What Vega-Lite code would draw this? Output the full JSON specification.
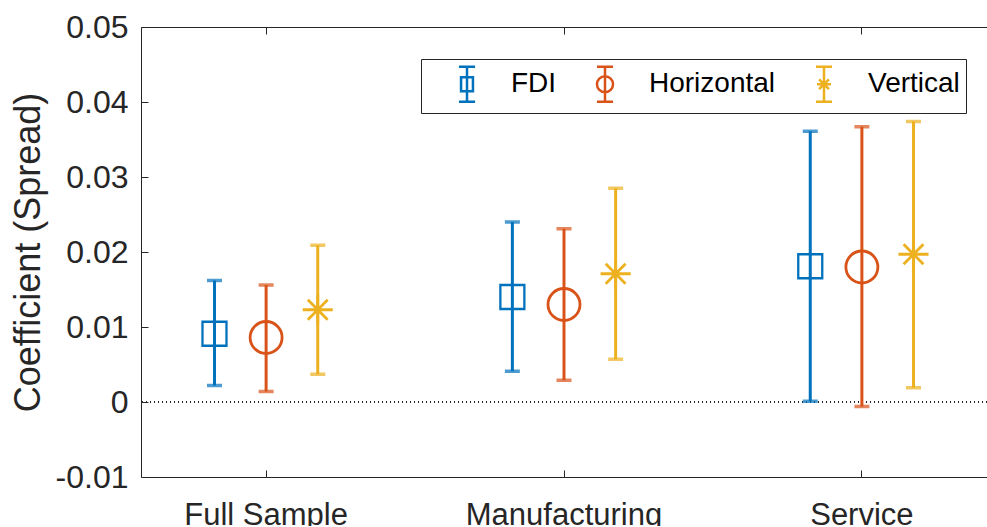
{
  "$schema": "https://vega.github.io/schema/vega-lite/v6.json",
  "autosize": "none",
  "padding": {"left": 141, "top": 27, "right": 0, "bottom": 49},
  "width": 846,
  "height": 450,
  "background": "white",
  "config": {
    "view": {"stroke": null},
    "font": "Liberation Sans",
    "axis": {
      "domainColor": "#262626",
      "tickColor": "#262626",
      "labelColor": "#262626",
      "titleColor": "#262626",
      "domainWidth": 1,
      "tickWidth": 1,
      "grid": false,
      "labelFont": "Liberation Sans",
      "titleFont": "Liberation Sans",
      "titleFontWeight": "normal",
      "labelLimit": 0
    },
    "legend": {
      "orient": "none",
      "legendX": 280,
      "legendY": 32,
      "direction": "horizontal",
      "titleOrient": "left",
      "titleFontSize": 1,
      "titlePadding": 21,
      "padding": 6,
      "strokeColor": "#262626",
      "fillColor": "white",
      "symbolSize": 1225,
      "symbolStrokeWidth": 2.5,
      "symbolFillColor": "transparent",
      "labelFontSize": 28,
      "labelColor": "#000000",
      "labelFont": "Liberation Sans",
      "labelOffset": 25,
      "columnPadding": 29,
      "symbolOpacity": 1
    }
  },
  "data": {
    "values": [
      {"group": "Full Sample", "series": "FDI", "est": 0.0091, "lo": 0.0022, "hi": 0.0162},
      {"group": "Full Sample", "series": "Horizontal", "est": 0.0086, "lo": 0.0014, "hi": 0.0156},
      {"group": "Full Sample", "series": "Vertical", "est": 0.0123, "lo": 0.0037, "hi": 0.0209},
      {"group": "Manufacturing", "series": "FDI", "est": 0.0140, "lo": 0.0041, "hi": 0.0240},
      {"group": "Manufacturing", "series": "Horizontal", "est": 0.0130, "lo": 0.0029, "hi": 0.0231},
      {"group": "Manufacturing", "series": "Vertical", "est": 0.0171, "lo": 0.0057, "hi": 0.0285},
      {"group": "Service", "series": "FDI", "est": 0.0181, "lo": 0.0001, "hi": 0.0361},
      {"group": "Service", "series": "Horizontal", "est": 0.0180, "lo": -0.0006, "hi": 0.0367},
      {"group": "Service", "series": "Vertical", "est": 0.0197, "lo": 0.0019, "hi": 0.0374}
    ]
  },
  "layer": [
    {
      "mark": {"type": "point", "filled": false, "opacity": 0, "size": 1225},
      "encoding": {
        "x": {
          "field": "group", "type": "nominal",
          "scale": {"domain": ["Full Sample", "Manufacturing", "Service"], "paddingInner": 0.48, "paddingOuter": 0.16},
          "axis": {"orient": "bottom", "title": null, "labelAngle": 0, "labelFontSize": 31, "tickSize": -7, "labelPadding": 30, "domain": true}
        },
        "xOffset": {"field": "series", "type": "nominal", "scale": {"domain": ["FDI", "Horizontal", "Vertical"]}},
        "y": {
          "field": "est", "type": "quantitative",
          "scale": {"domain": [-0.01, 0.05], "nice": false},
          "axis": {
            "title": "Coefficient (Spread)",
            "values": [-0.01, 0, 0.01, 0.02, 0.03, 0.04, 0.05],
            "labelExpr": "datum.value == 0 ? '0' : (datum.value < 0 ? '-' : '') + format(abs(datum.value), '.2f')",
            "labelFontSize": 32,
            "tickSize": -7,
            "labelPadding": 20,
            "titleFontSize": 36,
            "titlePadding": 8
          }
        },
        "color": {
          "field": "series", "type": "nominal",
          "scale": {"domain": ["FDI", "Horizontal", "Vertical"], "range": ["#0072BD", "#D95319", "#EDB120"]},
          "legend": {"title": "\u00a0"}
        },
        "shape": {
          "field": "series", "type": "nominal",
          "scale": {
            "domain": ["FDI", "Horizontal", "Vertical"],
            "range": [
              "M0,-1L0,1M-0.46,-1L0.46,-1M-0.46,1L0.46,1M-0.34,-0.4L0.34,-0.4L0.34,0.4L-0.34,0.4Z",
              "M0,-1L0,1M-0.46,-1L0.46,-1M-0.46,1L0.46,1M0.46,0A0.46,0.46 0 1,1 -0.46,0A0.46,0.46 0 1,1 0.46,0",
              "M0,-1L0,1M-0.46,-1L0.46,-1M-0.46,1L0.46,1M-0.4,0L0.4,0M-0.28,-0.28L0.28,0.28M-0.28,0.28L0.28,-0.28"
            ]
          },
          "legend": {"title": "\u00a0"}
        }
      }
    },
    {
      "mark": {"type": "rule", "strokeDash": [1, 3], "color": "#262626", "strokeWidth": 1},
      "encoding": {
        "y": {"datum": 0, "type": "quantitative", "title": "Coefficient (Spread)"}
      }
    },
    {
      "mark": {"type": "rule", "strokeWidth": 3},
      "encoding": {
        "x": {"field": "group", "type": "nominal", "axis": null},
        "xOffset": {"field": "series", "type": "nominal"},
        "y": {"field": "lo", "type": "quantitative", "title": "Coefficient (Spread)"},
        "y2": {"field": "hi"},
        "color": {"field": "series", "type": "nominal"}
      }
    },
    {
      "mark": {"type": "tick", "size": 12, "thickness": 0.5, "filled": false, "strokeWidth": 3},
      "encoding": {
        "x": {"field": "group", "type": "nominal", "axis": null},
        "xOffset": {"field": "series", "type": "nominal"},
        "y": {"field": "lo", "type": "quantitative", "title": "Coefficient (Spread)"},
        "color": {"field": "series", "type": "nominal"}
      }
    },
    {
      "mark": {"type": "tick", "size": 12, "thickness": 0.5, "filled": false, "strokeWidth": 3},
      "encoding": {
        "x": {"field": "group", "type": "nominal", "axis": null},
        "xOffset": {"field": "series", "type": "nominal"},
        "y": {"field": "hi", "type": "quantitative", "title": "Coefficient (Spread)"},
        "color": {"field": "series", "type": "nominal"}
      }
    },
    {
      "transform": [{"filter": "datum.series === 'FDI'"}],
      "mark": {"type": "point", "filled": false, "strokeWidth": 2.3, "size": 1024, "opacity": 1, "shape": "M-0.75,-0.75L0.75,-0.75L0.75,0.75L-0.75,0.75Z"},
      "encoding": {
        "x": {"field": "group", "type": "nominal", "axis": {"orient": "top", "labels": false, "title": null, "tickSize": -7, "domain": true}},
        "xOffset": {"field": "series", "type": "nominal"},
        "y": {"field": "est", "type": "quantitative", "title": "Coefficient (Spread)"},
        "color": {"field": "series", "type": "nominal"}
      }
    },
    {
      "transform": [{"filter": "datum.series === 'Horizontal'"}],
      "mark": {"type": "point", "filled": false, "strokeWidth": 2.8, "size": 1024, "opacity": 1, "shape": "circle"},
      "encoding": {
        "x": {"field": "group", "type": "nominal", "axis": null},
        "xOffset": {"field": "series", "type": "nominal"},
        "y": {"field": "est", "type": "quantitative", "title": "Coefficient (Spread)"},
        "color": {"field": "series", "type": "nominal"}
      }
    },
    {
      "transform": [{"filter": "datum.series === 'Vertical'"}],
      "mark": {"type": "point", "filled": false, "strokeWidth": 2.8, "size": 1024, "opacity": 1, "shape": "M-0.94,0L0.94,0M-0.62,-0.62L0.62,0.62M-0.62,0.62L0.62,-0.62M0,-0.94L0,0.94"},
      "encoding": {
        "x": {"field": "group", "type": "nominal", "axis": null},
        "xOffset": {"field": "series", "type": "nominal"},
        "y": {"field": "est", "type": "quantitative", "title": "Coefficient (Spread)"},
        "color": {"field": "series", "type": "nominal"}
      }
    }
  ],
  "resolve": {"axis": {"x": "independent"}}
}
